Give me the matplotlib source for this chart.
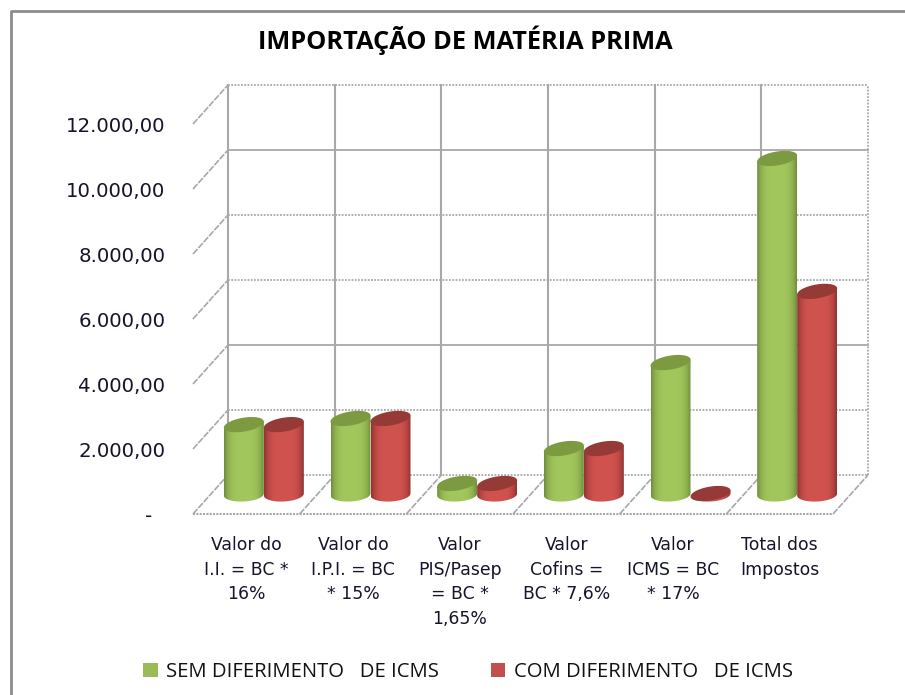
import numpy as np
import matplotlib
matplotlib.use("Agg")
import matplotlib.pyplot as plt
from matplotlib.patches import Polygon, Patch
from matplotlib.lines import Line2D

categorias = ["Valor do\nI.I. = BC *\n16%", "Valor do\nI.P.I. = BC\n* 15%", "Valor\nPIS/Pasep\n= BC *\n1,65%",
              "Valor\nCofins =\nBC * 7,6%", "Valor\nICMS = BC\n* 17%", "Total dos\nImpostos"]
sem_diferimento = [2150, 2340, 340, 1415, 4060, 10340]
com_diferimento = [2150, 2340, 340, 1415, 30, 6250]
y_ticks = [0, 2000, 4000, 6000, 8000, 10000, 12000]
y_labels = ["-\u00a0\u00a0", "2.000,00", "4.000,00", "6.000,00", "8.000,00", "10.000,00", "12.000,00"]
linhas_solidas = [4000, 10000]

FIG_W, FIG_H = 905, 695
AX_L, AX_B, AX_R, AX_T = 193, 514, 833, 124
GRID = "#a8a8a8"

fig = plt.figure(figsize=(FIG_W / 100, FIG_H / 100), dpi=100)
ax = fig.add_axes([AX_L / FIG_W, 1 - AX_B / FIG_H, (AX_R - AX_L) / FIG_W, (AX_B - AX_T) / FIG_H])
ax.set_xlim(0, 6)
ax.set_ylim(0, 12000)

# pixels to data units
sx = 6 / (AX_R - AX_L)
sy = 12000 / (AX_B - AX_T)
DX = 35 * sx
DY = 39 * sy


def cylinder(x, value, colors, z):
    a = 20 * sx
    b = 7 * sy
    s_top = 3 * sy
    s_bot = 1 * sy
    cx = x + DX / 2
    y0 = DY / 2
    y1 = y0 + value
    t = np.linspace(0, 2 * np.pi, 80)
    body_t = np.linspace(np.pi, 2 * np.pi, 40)
    bottom = np.column_stack([cx + a * np.cos(body_t), y0 + b * np.sin(body_t) + s_bot * np.cos(body_t)])
    top_pts = np.array([[cx + a, y1 + s_top], [cx - a, y1 - s_top]])
    body = Polygon(np.vstack([bottom, top_pts]), closed=True, facecolor="none", edgecolor="none",
                   clip_on=False, zorder=z)
    ax.add_patch(body)
    img = ax.imshow(colors["grad"], extent=[cx - a, cx + a, y0 - 2 * b, y1 + 2 * b], aspect="auto",
                    interpolation="bilinear", zorder=z)
    img.set_clip_box(fig.bbox)
    img.set_clip_path(body)
    cap = np.column_stack([cx + a * np.cos(t), y1 + b * np.sin(t) + s_top * np.cos(t)])
    ax.add_patch(Polygon(cap, closed=True, facecolor=colors["cap"], edgecolor="none", clip_on=False, zorder=z + 0.1))


def gradient(dark, light):
    dark = np.array(matplotlib.colors.to_rgb(dark))
    light = np.array(matplotlib.colors.to_rgb(light))
    u = np.linspace(-1, 1, 60)
    w = np.clip(np.abs(u) ** 4, 0, 1)[None, :, None]
    return dark * w + light * (1 - w)


verde = {"grad": gradient("#6f8d3c", "#a2c75c"), "cap": "#7c9a3f"}
vermelho = {"grad": gradient("#8f3331", "#d1534f"), "cap": "#963a37"}

# back wall
for v in y_ticks:
    ls = "-" if v in linhas_solidas else (0, (1, 0.8))
    ax.plot([DX, 6 + DX], [v + DY, v + DY], color=GRID, lw=1.3, ls=ls, clip_on=False, zorder=1)
    ax.plot([0, DX], [v, v + DY], color=GRID, lw=1.2, ls=(0, (4, 0.8)), clip_on=False, zorder=1)
for k in range(6):
    ax.plot([k + DX, k + DX], [DY, 12000 + DY], color=GRID, lw=1.5, clip_on=False, zorder=1)
ax.plot([6 + DX, 6 + DX], [DY, 12000 + DY], color=GRID, lw=1.3, ls=(0, (1, 0.8)), clip_on=False, zorder=1)
# floor
ax.plot([0, 6], [0, 0], color=GRID, lw=1.5, ls=(0, (1, 0.6)), clip_on=False, zorder=1)
for k in range(1, 7):
    ax.plot([k, k + DX], [0, DY], color=GRID, lw=1.2, ls=(0, (4, 0.8)), clip_on=False, zorder=1)

for k in range(6):
    cylinder(k + 0.3125, sem_diferimento[k], verde, 3 + k)
    cylinder(k + 0.6875, com_diferimento[k], vermelho, 3.5 + k)

ax.set_xlim(0, 6)
ax.set_ylim(0, 12000)
for sp in ax.spines.values():
    sp.set_visible(False)
ax.patch.set_visible(False)

ax.set_yticks(y_ticks)
ax.set_yticklabels(y_labels, fontsize=14.2, color="#15152a", family="DejaVu Sans")
ax.tick_params(axis="y", length=0, pad=20)
ax.set_xticks(np.arange(6) + 0.5)
ax.set_xticklabels(categorias, fontsize=12.4, color="#15152a", family="DejaVu Sans", linespacing=1.47)
ax.tick_params(axis="x", length=0, pad=16)

fig.text(465 / FIG_W, 1 - 40 / FIG_H, "IMPORTAÇÃO DE MATÉRIA PRIMA", ha="center", va="center",
         fontsize=18.3, fontweight="bold", family="Open Sans", color="black")

# chart border
fig.add_artist(Line2D([11 / FIG_W, 11 / FIG_W, 1], [0, 1 - 11 / FIG_H, 1 - 11 / FIG_H],
                      color="#8c8c8c", lw=2, transform=fig.transFigure))

handles = [Patch(facecolor="#9bbb59", label="SEM DIFERIMENTO   DE ICMS"),
           Patch(facecolor="#c0504d", label="COM DIFERIMENTO   DE ICMS")]
fig.legend(handles=handles, loc="center", bbox_to_anchor=(468 / FIG_W, 1 - 672 / FIG_H), ncol=2, frameon=False,
           prop={"family": "Open Sans", "size": 14.6}, handlelength=0.7, handleheight=0.7, handletextpad=0.4,
           columnspacing=2.6, labelcolor="#111111")

fig.savefig("out.png", dpi=100)
